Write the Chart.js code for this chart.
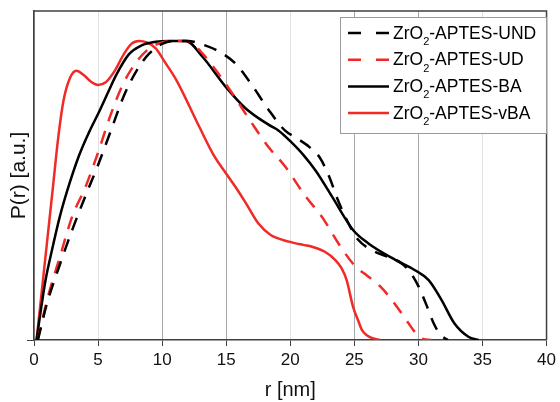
<!DOCTYPE html>
<html>
<head>
<meta charset="utf-8">
<script src="https://cdn.jsdelivr.net/npm/chart.js@4.4.0/dist/chart.umd.min.js"></script>
<style>
  body { margin: 0; background: #fff; }
</style>
</head>
<body>
<canvas id="chart" width="560" height="402"></canvas>
<script>
// series: r in nm, P(r) in a.u.
var labels = ['ZrO2-APTES-UND', 'ZrO2-APTES-UD', 'ZrO2-APTES-BA', 'ZrO2-APTES-vBA'];
var xTicks = [0, 5, 10, 15, 20, 25, 30, 35, 40];

var rUND = [0.3, 1, 2, 3, 4, 5, 6, 7, 8, 9, 10, 11, 12, 13, 14.2, 15.7, 17.0, 18.3, 19.6, 20.5, 21.5, 22.3, 23.0, 23.7, 24.6, 25.3, 26.4, 27.5, 28.5, 29.3, 30.0, 30.6, 31.2, 31.7, 32.3];
var pUND = [0, 0.12, 0.25, 0.37, 0.48, 0.585, 0.70, 0.815, 0.90, 0.958, 0.99, 1.0, 1.0, 0.99, 0.97, 0.925, 0.853, 0.77, 0.70, 0.675, 0.645, 0.61, 0.55, 0.47, 0.385, 0.335, 0.30, 0.28, 0.262, 0.23, 0.18, 0.12, 0.055, 0.018, 0];

var rUD = [0.3, 1, 2, 3, 4, 5, 6, 7, 8, 9, 10, 11, 12, 13, 14.4, 15.7, 17.0, 18.3, 19.6, 21.2, 22.5, 23.8, 25.0, 26.0, 27.0, 28.0, 29.0, 29.7, 30.3, 31.0];
var pUD = [0, 0.13, 0.275, 0.415, 0.51, 0.627, 0.755, 0.86, 0.93, 0.975, 0.995, 1.0, 1.0, 0.965, 0.89, 0.81, 0.725, 0.645, 0.58, 0.48, 0.41, 0.32, 0.25, 0.215, 0.18, 0.13, 0.07, 0.028, 0.005, 0];

var rBA = [0.2, 0.5, 0.9, 1.4, 2.0, 2.6, 3.5, 4.3, 5.1, 5.8, 6.4, 7.4, 8.4, 9.5, 10.5, 11.85, 13.15, 14.95, 16.5, 18.3, 19.1, 20.0, 21.0, 22.0, 23.25, 24.9, 26.1, 28.2, 29.7, 30.8, 31.8, 32.8, 33.9, 34.7];
var pBA = [0, 0.09, 0.20, 0.30, 0.41, 0.50, 0.615, 0.695, 0.765, 0.83, 0.885, 0.955, 0.985, 0.997, 1.0, 1.0, 0.947, 0.847, 0.775, 0.72, 0.70, 0.665, 0.62, 0.565, 0.48, 0.368, 0.323, 0.268, 0.234, 0.20, 0.134, 0.056, 0.011, 0];

var rVBA = [0.2, 0.8, 1.45, 1.9, 2.3, 2.8, 3.3, 3.9, 4.5, 5.0, 5.6, 6.3, 7.0, 7.6, 8.2, 8.8, 9.5, 10.2, 11.1, 12.9, 14.0, 15.1, 15.7, 16.5, 17.5, 18.5, 19.9, 21.0, 21.7, 22.7, 23.5, 24.0, 24.4, 24.9, 25.3, 25.6, 26.0, 26.4, 27.0];
var pVBA = [0, 0.24, 0.50, 0.68, 0.80, 0.875, 0.90, 0.885, 0.862, 0.853, 0.862, 0.90, 0.955, 0.99, 1.0, 0.995, 0.975, 0.93, 0.87, 0.713, 0.62, 0.55, 0.513, 0.46, 0.39, 0.35, 0.329, 0.318, 0.312, 0.295, 0.268, 0.24, 0.20, 0.111, 0.065, 0.033, 0.015, 0.006, 0];

var RED = '#f02a26';
var FONT = '"Liberation Sans", Arial, sans-serif';

function pts(rs, ps) {
  return rs.map(function (r, i) { return { x: r, y: ps[i] }; });
}

function series(label, rs, ps, color, dashed) {
  return {
    label: label,
    data: pts(rs, ps),
    borderColor: color,
    borderWidth: 2.5,
    borderDash: dashed ? [13, 10] : [],
    pointRadius: 0,
    fill: false,
    cubicInterpolationMode: 'monotone'
  };
}

// frame round the plot + legend box with subscripts
var framePlugin = {
  id: 'frame',
  afterDatasetsDraw: function (chart) {
    var ctx = chart.ctx, a = chart.chartArea;
    ctx.save();
    ctx.strokeStyle = '#404040';
    ctx.lineWidth = 1.5;
    ctx.beginPath();
    ctx.moveTo(a.left, a.top);
    ctx.lineTo(a.right, a.top);
    ctx.lineTo(a.right, a.bottom);
    ctx.stroke();

    // legend
    var bx = 340, by = 17, bw = 206, bh = 116;
    ctx.fillStyle = '#fff';
    ctx.fillRect(bx, by, bw, bh);
    ctx.strokeStyle = '#9a9a9a';
    ctx.lineWidth = 1;
    ctx.strokeRect(bx + 0.5, by + 0.5, bw, bh);

    chart.data.datasets.forEach(function (ds, i) {
      var y = 33 + i * 26.7;
      ctx.strokeStyle = ds.borderColor;
      ctx.lineWidth = 2.5;
      ctx.setLineDash(ds.borderDash.length ? [13, 15] : []);
      ctx.beginPath();
      ctx.moveTo(348, y);
      ctx.lineTo(389, y);
      ctx.stroke();
      ctx.setLineDash([]);

      var base = y + 5.5;
      var parts = ds.label.split('2');
      ctx.fillStyle = '#000';
      ctx.textBaseline = 'alphabetic';
      ctx.textAlign = 'left';
      var x = 393;
      ctx.font = '17.5px ' + FONT;
      ctx.fillText(parts[0], x, base);
      x += ctx.measureText(parts[0]).width;
      ctx.font = '11px ' + FONT;
      ctx.fillText('2', x, base + 6.5);
      x += ctx.measureText('2').width;
      ctx.font = '17.5px ' + FONT;
      ctx.fillText(parts[1], x, base);
    });
    ctx.restore();
  }
};

new Chart(document.getElementById('chart'), {
  type: 'line',
  data: {
    datasets: [
      series(labels[0], rUND, pUND, '#000', true),
      series(labels[1], rUD, pUD, RED, true),
      series(labels[2], rBA, pBA, '#000', false),
      series(labels[3], rVBA, pVBA, RED, false)
    ]
  },
  options: {
    responsive: false,
    animation: false,
    devicePixelRatio: 1,
    layout: { padding: { top: 11, right: 11, left: 0, bottom: 0 } },
    plugins: { legend: { display: false }, tooltip: { enabled: false } },
    scales: {
      x: {
        type: 'linear',
        min: 0,
        max: 40,
        afterBuildTicks: function (s) { s.ticks = xTicks.map(function (v) { return { value: v }; }); },
        afterFit: function (s) { s.height = 62; },
        ticks: { color: '#111', font: { family: FONT, size: 17 }, padding: 4, maxRotation: 0 },
        grid: {
          color: function (c) { return [5, 20, 35].indexOf(c.tick.value) >= 0 ? '#e2e2e2' : '#a8a8a8'; },
          tickColor: '#404040',
          tickLength: 6,
          lineWidth: 1
        },
        border: { color: '#404040', width: 1.5 },
        title: { display: true, text: 'r [nm]', color: '#111', font: { family: FONT, size: 20 }, padding: { top: 0, bottom: 0 } }
      },
      y: {
        min: 0,
        max: 1.1,
        afterBuildTicks: function (s) { s.ticks = [{ value: 0 }]; },
        afterFit: function (s) { s.width = 34; },
        ticks: { display: false },
        grid: { drawOnChartArea: false, tickColor: '#404040', tickLength: 7 },
        border: { color: '#404040', width: 1.5 },
        title: { display: true, text: 'P(r) [a.u.]', color: '#111', font: { family: FONT, size: 21 }, padding: { top: 7, bottom: 0 } }
      }
    }
  },
  plugins: [framePlugin]
});
</script>
</body>
</html>
